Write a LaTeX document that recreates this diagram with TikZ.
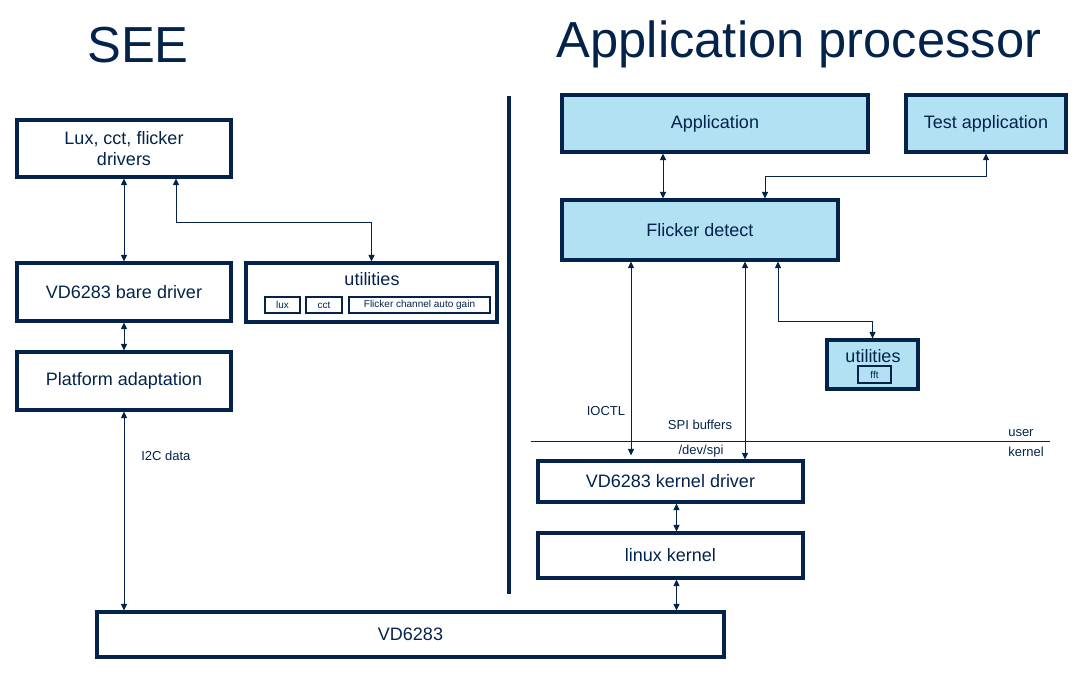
\documentclass[tikz,border=0pt]{standalone}
\usepackage{fontspec}
\setmainfont{Liberation Sans}
\usetikzlibrary{arrows.meta,calc}
\definecolor{stnavy}{RGB}{3,35,75}
\definecolor{stsky}{RGB}{179,225,244}
% box from corner (#3,#4) to corner (#5,#6), in pixels
\newcommand{\unit}[7]{%
  \node[#1,minimum width={(#5-#3)*0.75pt},minimum height={(#6-#4)*0.75pt}]
    (#2) at ({(#3+#5)/2},{(#4+#6)/2}) {#7};
}
\tikzset{
  blk/.style={draw=stnavy,line width=2.3pt,text=stnavy,align=center,inner sep=0pt,
    font=\fontsize{13.5}{15.75}\selectfont},
  skyblk/.style={blk,fill=stsky},
  chip/.style={draw=stnavy,line width=1pt,text=stnavy,inner sep=0pt,
    font=\fontsize{7.5}{9}\selectfont},
  heading/.style={text=stnavy,anchor=base,inner sep=0pt,font=\fontsize{38}{44}\selectfont},
  lbl/.style={text=stnavy,inner sep=0pt,font=\fontsize{9.75}{12}\selectfont},
  link/.style={draw=stnavy,line width=0.75pt},
  >={Triangle[length=5pt,width=4.6pt]}
}

\begin{document}
\begin{tikzpicture}[x=0.75pt,y=-0.75pt]
  \useasboundingbox (0,0) rectangle (1079,679);
  \node[heading] (see) at (138,62) {SEE};
  \node[heading] (ap) at (799,57) {Application processor};

  % SEE side
  \unit{blk}{lux}{17}{120}{231}{177}{Lux, cct, flicker\\drivers}
  \unit{blk}{bare}{17}{263}{231}{321}{VD6283 bare driver}
  \unit{blk}{plat}{17}{352}{231}{410}{Platform adaptation}
  \unit{blk}{utilL}{246}{263}{497}{322}{}
  \node[text=stnavy,inner sep=0pt,font=\fontsize{13.5}{16}\selectfont] (utilLt) at (372,279) {utilities};
  \foreach \nm/\xa/\xb/\txt in {ulux/265/300/lux,ucct/306/342/cct,ugain/349/490/Flicker channel auto gain}
    {\unit{chip}{\nm}{\xa}{297}{\xb}{313}{\txt}}
  \unit{blk}{vd}{97}{612}{724}{657}{VD6283}

  % separator
  \draw[stnavy,line width=3pt] (509,96) -- (509,594);

  % application processor side
  \unit{skyblk}{app}{562}{95}{868}{152}{Application}
  \unit{skyblk}{test}{906}{95}{1066}{152}{Test application}
  \unit{skyblk}{flick}{562}{200}{838}{260}{Flicker detect}
  \unit{skyblk}{utilR}{827}{340}{918}{389}{}
  \node[text=stnavy,inner sep=0pt,font=\fontsize{13.5}{16}\selectfont] (utilRt) at (873,356) {utilities};
  \unit{chip}{fft}{858}{366}{891}{383}{fft}
  \unit{blk}{kdrv}{538}{461}{803}{502}{VD6283 kernel driver}
  \unit{blk}{lk}{538}{533}{803}{578}{linux kernel}

  \draw[stnavy,line width=0.75pt] (531,441) -- (1050,441);
  \node[lbl] (ioctl) at (606,411) {IOCTL};
  \node[lbl] (spibuf) at (700,425) {SPI buffers};
  \node[lbl] (devspi) at (701,451) {/dev/spi};
  \node[lbl,anchor=west] (user) at (1008,433) {user};
  \node[lbl,anchor=west] (kern) at (1008,452) {kernel};
  \node[lbl,anchor=west] (i2c) at (141,456) {I2C data};

  % connectors
  \draw[link,<->] (lux) -- (bare);
  \draw[link,<->] (bare) -- (plat);
  \draw[link,<->] (plat.south) -- (plat.south |- vd.north);
  \draw[link,<->] ($(lux.south)+(52,0)$) -- ++(0,44) -| (utilL.north);
  \draw[link,<->] (app.south -| 663,0) -- (flick.north -| 663,0);
  \draw[link,<->] ($(flick.north)+(65,0)$) -- ++(0,-22) -| (test.south);
  \draw[link,<->] ($(flick.south)+(78,0)$) -- ++(0,60) -| (utilR.north);
  \coordinate (ioctlx) at ($(flick.south)+(-69,0)$);
  \coordinate (spix) at ($(flick.south)+(45,0)$);
  \draw[link,<->] (ioctlx) -- ($(ioctlx |- kdrv.north)+(0,-4)$);
  \draw[link,<->] (spix) -- (spix |- kdrv.north);
  \draw[link,<->] ($(kdrv.south)+(6,0)$) -- ($(lk.north)+(6,0)$);
  \draw[link,<->] ($(lk.south)+(6,0)$) -- ($(lk.south |- vd.north)+(6,0)$);
\end{tikzpicture}
\end{document}
